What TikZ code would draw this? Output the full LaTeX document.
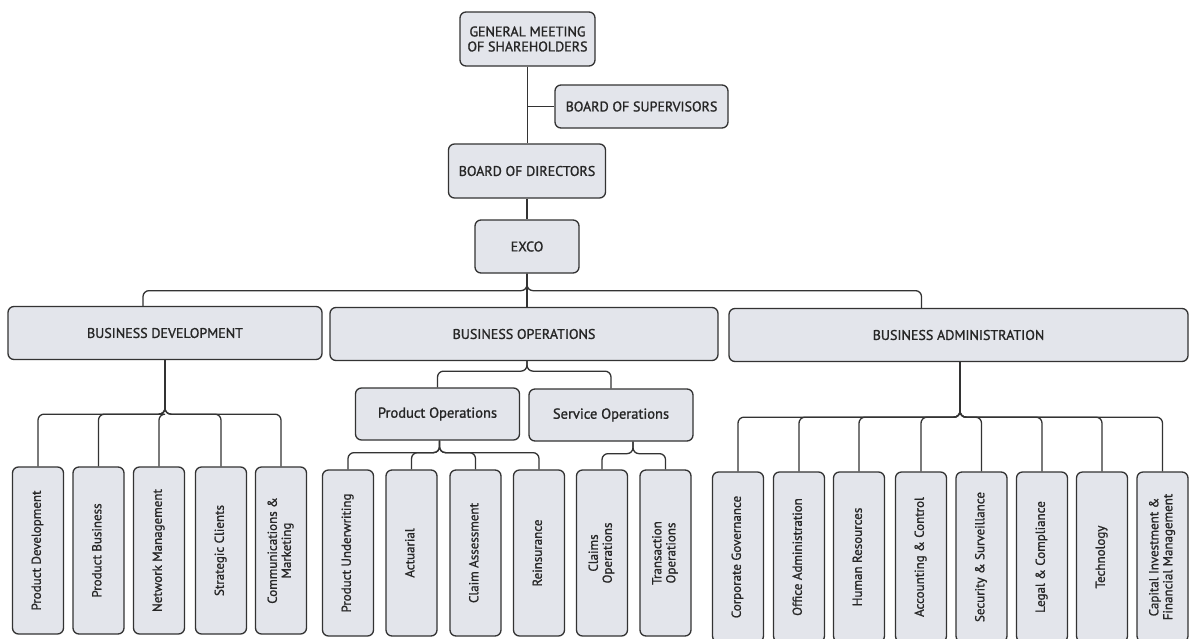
\documentclass[tikz,border=0pt]{standalone}
\usepackage{fontspec}
\setmainfont{PT Sans}
\newfontfamily\semib[FakeBold=1.2]{PT Sans}
\usepackage{graphicx}
\definecolor{boxfill}{HTML}{E3E5EB}
\definecolor{edge}{HTML}{333333}
\newcommand{\vtext}[1]{\rotatebox{90}{\begin{tabular}{@{}c@{}}#1\end{tabular}}}
\tikzset{
  box/.style={draw=edge, fill=boxfill, rounded corners=6pt, line width=1.3pt, inner sep=0pt, align=center, text=black!85},
  topbox/.style={box, font=\semib\fontsize{14}{15}\selectfont},
  unitbox/.style={box, minimum height=53, font=\semib\fontsize{14}{15}\selectfont},
  subbox/.style={box, minimum width=164, minimum height=52, font=\semib\fontsize{14.5}{16}\selectfont},
  leafbox/.style={box, minimum width=51, font=\semib\fontsize{13}{14}\selectfont},
  link/.style={draw=edge, line width=1.3pt, rounded corners=6pt},
}
\begin{document}
\begin{tikzpicture}[x=1pt,y=-1pt]
\useasboundingbox[fill=white] (0,0) rectangle (1189,638);
% top chain
\node[topbox, minimum width=135, minimum height=54] (gm) at (527.5,39) {GENERAL MEETING\\OF SHAREHOLDERS};
\node[topbox, minimum width=173, minimum height=43] (bos) at (641.5,106.5) {BOARD OF SUPERVISORS};
\node[topbox, minimum width=157, minimum height=54] (bod) at (527,171) {BOARD OF DIRECTORS};
\node[topbox, minimum width=104, minimum height=53] (exco) at (527,246.5) {EXCO};
% units
\node[unitbox, minimum width=314] (bd) at (165,333) {BUSINESS DEVELOPMENT};
\node[unitbox, minimum width=388] (bo) at (524,334) {BUSINESS OPERATIONS};
\node[unitbox, minimum width=459] (ba) at (958.5,335) {BUSINESS ADMINISTRATION};
% sub units
\node[subbox] (po) at (437.5,414) {Product Operations};
\node[subbox] (so) at (611,415) {Service Operations};
% BD leaves
\node[leafbox, minimum height=167] (bd1) at (38,550.5) {\vtext{Product Development}};
\node[leafbox, minimum height=167] (bd2) at (98.5,550.5) {\vtext{Product Business}};
\node[leafbox, minimum height=167] (bd3) at (159,550.5) {\vtext{Network Management}};
\node[leafbox, minimum height=167] (bd4) at (221,550.5) {\vtext{Strategic Clients}};
\node[leafbox, minimum height=167] (bd5) at (281,550.5) {\vtext{Communications \&\\Marketing}};
% PO leaves
\node[leafbox, minimum height=166] (po1) at (348,553) {\vtext{Product Underwriting}};
\node[leafbox, minimum height=166] (po2) at (411.5,553) {\vtext{Actuarial}};
\node[leafbox, minimum height=166] (po3) at (475.5,553) {\vtext{Claim Assessment}};
\node[leafbox, minimum height=166] (po4) at (539,553) {\vtext{Reinsurance}};
% SO leaves
\node[leafbox, minimum height=166] (so1) at (602,553) {\vtext{Claims\\Operations}};
\node[leafbox, minimum height=166] (so2) at (665.5,553) {\vtext{Transaction\\Operations}};
% BA leaves
\node[leafbox, minimum height=170] (ba1) at (738,557) {\vtext{Corporate Governance}};
\node[leafbox, minimum height=170] (ba2) at (799,557) {\vtext{Office Administration}};
\node[leafbox, minimum height=170] (ba3) at (859,557) {\vtext{Human Resources}};
\node[leafbox, minimum height=170] (ba4) at (921,557) {\vtext{Accounting \& Control}};
\node[leafbox, minimum height=170] (ba5) at (981.5,557) {\vtext{Security \& Surveillance}};
\node[leafbox, minimum height=170] (ba6) at (1042,557) {\vtext{Legal \& Compliance}};
\node[leafbox, minimum height=170] (ba7) at (1102,557) {\vtext{Technology}};
\node[leafbox, minimum height=170] (ba8) at (1162.5,557) {\vtext{Capital Investment \&\\Financial Management}};
% connectors: top chain
\draw[link] (gm.south) -- (gm.south |- bod.north);
\draw[link] (gm.south |- bos.west) -- (bos.west);
\draw[link] (bod.south) -- (bod.south |- exco.north);
% EXCO to units
\draw[link] (exco.south) -- ++(0,17) -| ([xshift=-22pt]bd.north);
\draw[link] (exco.south) -- ++(0,17) -| ([xshift=-37pt]ba.north);
\draw[link] (exco.south) -- (exco.south |- bo.north);
% BD to leaves
\foreach \n in {bd1,bd2,bd3,bd4,bd5}
  \draw[link] (bd.south) -- ++(0,54) -| (\n.north);
% BO to sub units
\foreach \n in {po,so}
  \draw[link] ([xshift=3pt]bo.south) -- ++(0,10) -| (\n.north);
% PO to leaves
\foreach \n in {po1,po2,po3,po4}
  \draw[link] ([xshift=2pt]po.south) -- ++(0,12) -| (\n.north);
% SO to leaves
\foreach \n in {so1,so2}
  \draw[link] ([xshift=22pt]so.south) -- ++(0,12) -| (\n.north);
% BA to leaves
\foreach \n in {ba1,ba2,ba3,ba4,ba5,ba6,ba7,ba8}
  \draw[link] ([xshift=1.5pt]ba.south) -- ++(0,55) -| (\n.north);
\end{tikzpicture}
\end{document}
